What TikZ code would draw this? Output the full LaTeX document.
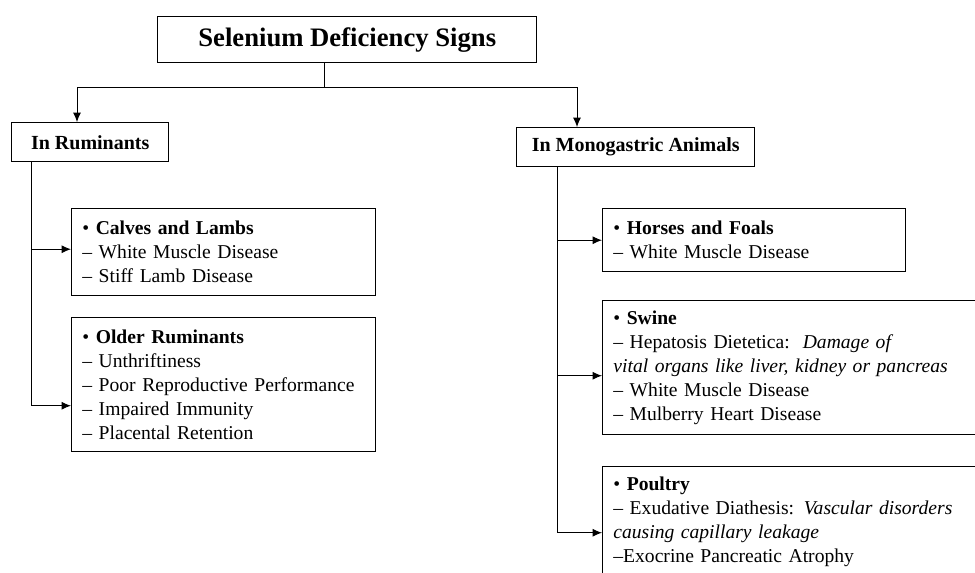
\documentclass[tikz,border=0pt]{standalone}
\usepackage{fontspec}
\setmainfont{Liberation Serif}
\usetikzlibrary{calc,arrows.meta}
\hyphenpenalty=10000

\begin{document}
\begin{tikzpicture}[x=0.75pt,y=-0.75pt,
	box/.style={draw, rectangle, line width=1.1pt, anchor=north west, inner xsep=8pt, inner ysep=0pt, align=left, font=\fontsize{14.7}{18}\selectfont},
	head/.style={box, align=center, font=\fontsize{15}{18}\selectfont\bfseries},
	link/.style={line width=0.75pt},
	arr/.style={link, -{Latex[length=7pt,width=6pt]}}]
	
	\clip (0,0) rectangle (975,572);
	
	\node[head, minimum width=284.25pt, minimum height=34.5pt, font=\fontsize{20}{24}\selectfont\bfseries] (title) at (157,16) {Selenium Deficiency Signs};
	\node[head, minimum width=117.75pt, minimum height=29.25pt] (ruminants) at (11,122) {In Ruminants};
	\node[head, minimum width=178.5pt, minimum height=29.25pt] (mono) at (516,127) {In Monogastric Animals};
	
	\node[box, text width=212pt, minimum height=65.25pt] (calves) at (71,208) {• \textbf{Calves and Lambs}\\– White Muscle Disease\\– Stiff Lamb Disease};
	\node[box, text width=212pt, minimum height=100.5pt] (older) at (71,317) {• \textbf{Older Ruminants}\\– Unthriftiness\\– Poor Reproductive Performance\\– Impaired Immunity\\– Placental Retention};
	
	\node[box, text width=211.25pt, minimum height=47.25pt] (horses) at (602,208) {• \textbf{Horses and Foals}\\– White Muscle Disease};
	\node[box, text width=282.5pt, minimum height=100.5pt] (swine) at (602,300) {• \textbf{Swine}\\– Hepatosis Dietetica:\ \ \textit{Damage of}\\\textit{vital organs like liver, kidney or pancreas}\\– White Muscle Disease\\– Mulberry Heart Disease};
	\node[box, text width=282.5pt, minimum height=82.5pt] (poultry) at (602,466) {• \textbf{Poultry}\\– Exudative Diathesis: \textit{Vascular disorders}\\\textit{causing capillary leakage}\\–Exocrine Pancreatic Atrophy};
	
	\coordinate (fork) at (324,87);
	\draw[link] (title.south -| fork) -- (fork);
	\draw[arr] (fork) -| ($(ruminants.north west)+(66,0)$);
	\draw[arr] (fork) -| ($(mono.north west)+(61,0)$);
	
	\draw[arr] ($(ruminants.south west)+(20,0)$) |- ($(calves.west)+(0,-3)$);
	\draw[arr] ($(ruminants.south west)+(20,0)$) |- ($(older.west)+(0,21)$);
	
	\draw[arr] ($(mono.south west)+(41,0)$) |- (horses.west);
	\draw[arr] ($(mono.south west)+(41,0)$) |- ($(swine.west)+(0,8)$);
	\draw[arr] ($(mono.south west)+(41,0)$) |- ($(poultry.west)+(0,11)$);
	
\end{tikzpicture}
\end{document}
